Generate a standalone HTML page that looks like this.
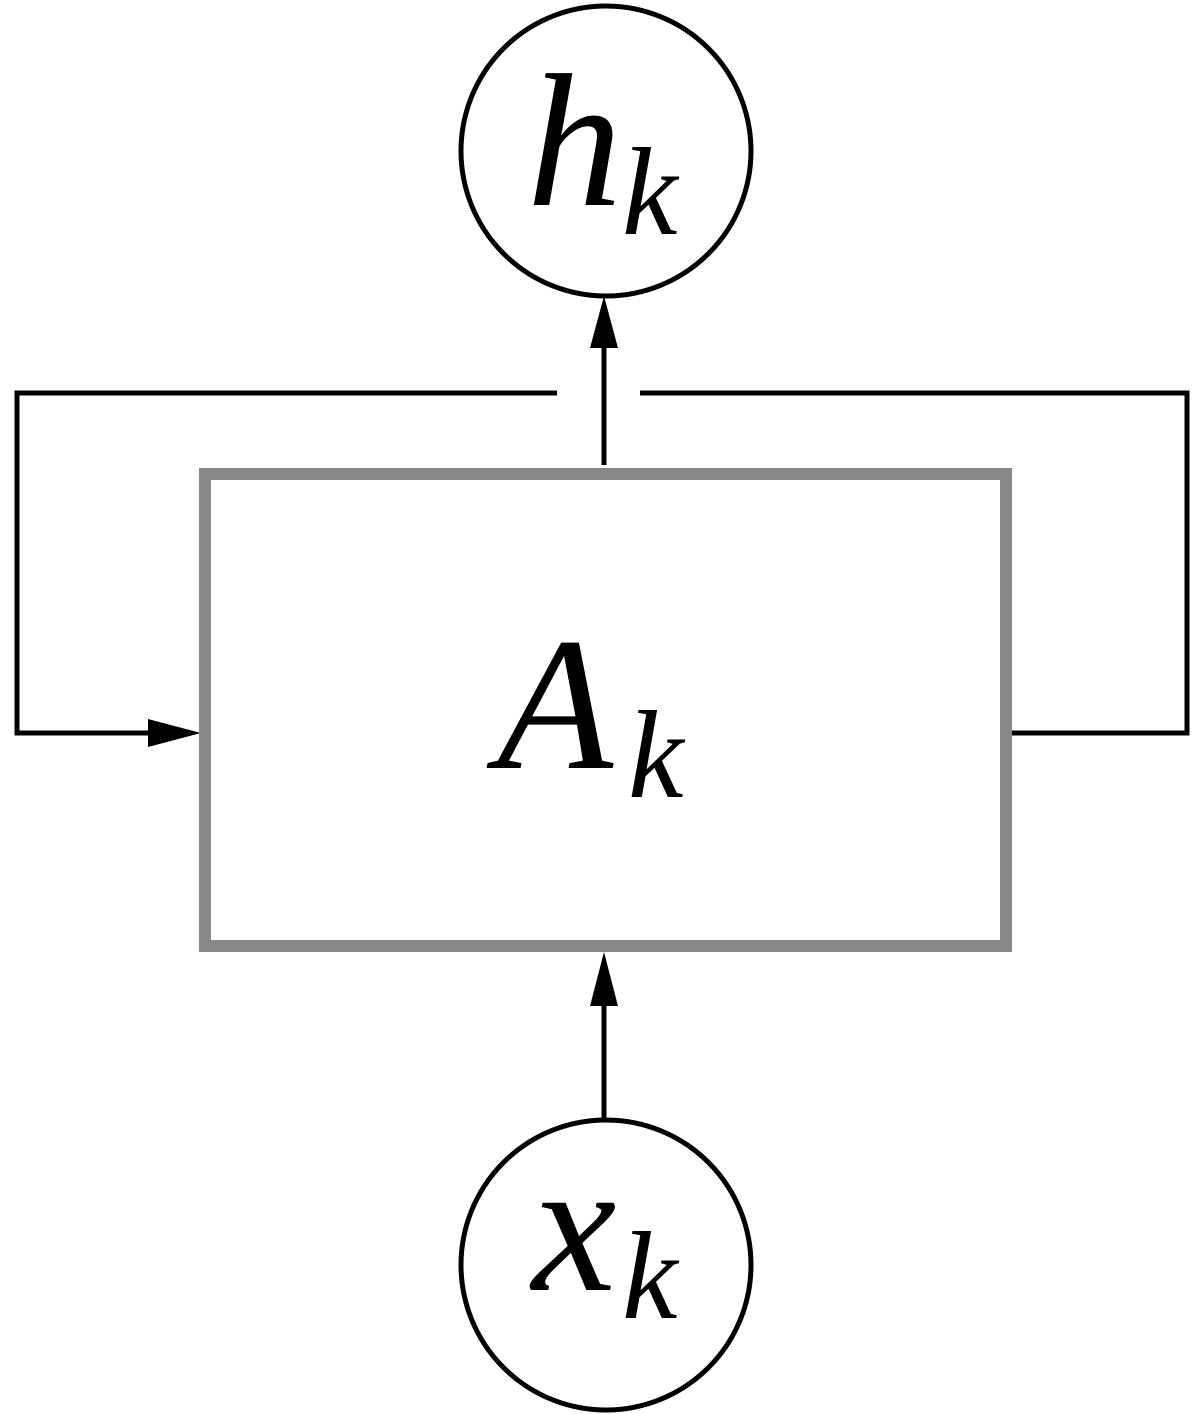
<!DOCTYPE html>
<html><head><meta charset="utf-8"><style>
html,body{margin:0;padding:0;background:#fff;}
svg{display:block;}
text{font-family:"Liberation Serif",serif;font-style:italic;fill:#000;}
</style></head><body>
<svg width="1200" height="1414" viewBox="0 0 1200 1414" xmlns="http://www.w3.org/2000/svg">
<rect width="1200" height="1414" fill="#fff"/>
<circle cx="606" cy="151" r="145" fill="none" stroke="#000" stroke-width="5"/>
<text x="527" y="205" font-size="190">h</text>
<text x="622" y="234" font-size="125">k</text>
<line x1="604" y1="465" x2="604" y2="345" stroke="#000" stroke-width="5"/>
<polygon points="604,296 590,348 618,348" fill="#000"/>
<polyline points="557,393 17,393 17,733 160,733" fill="none" stroke="#000" stroke-width="5"/>
<polygon points="201,733 148,719 148,747" fill="#000"/>
<polyline points="640,393 1187,393 1187,733 1012,733" fill="none" stroke="#000" stroke-width="5"/>
<rect x="205" y="474" width="801" height="472" fill="#fff" stroke="#888" stroke-width="12"/>
<text x="497" y="768" font-size="190">A</text>
<text x="628" y="797" font-size="125">k</text>
<line x1="604" y1="1120" x2="604" y2="1000" stroke="#000" stroke-width="5"/>
<polygon points="604,952 590,1006 618,1006" fill="#000"/>
<circle cx="606" cy="1265" r="145" fill="none" stroke="#000" stroke-width="5"/>
<text x="532" y="1290" font-size="190">x</text>
<text x="622" y="1318" font-size="125">k</text>
</svg>
</body></html>
